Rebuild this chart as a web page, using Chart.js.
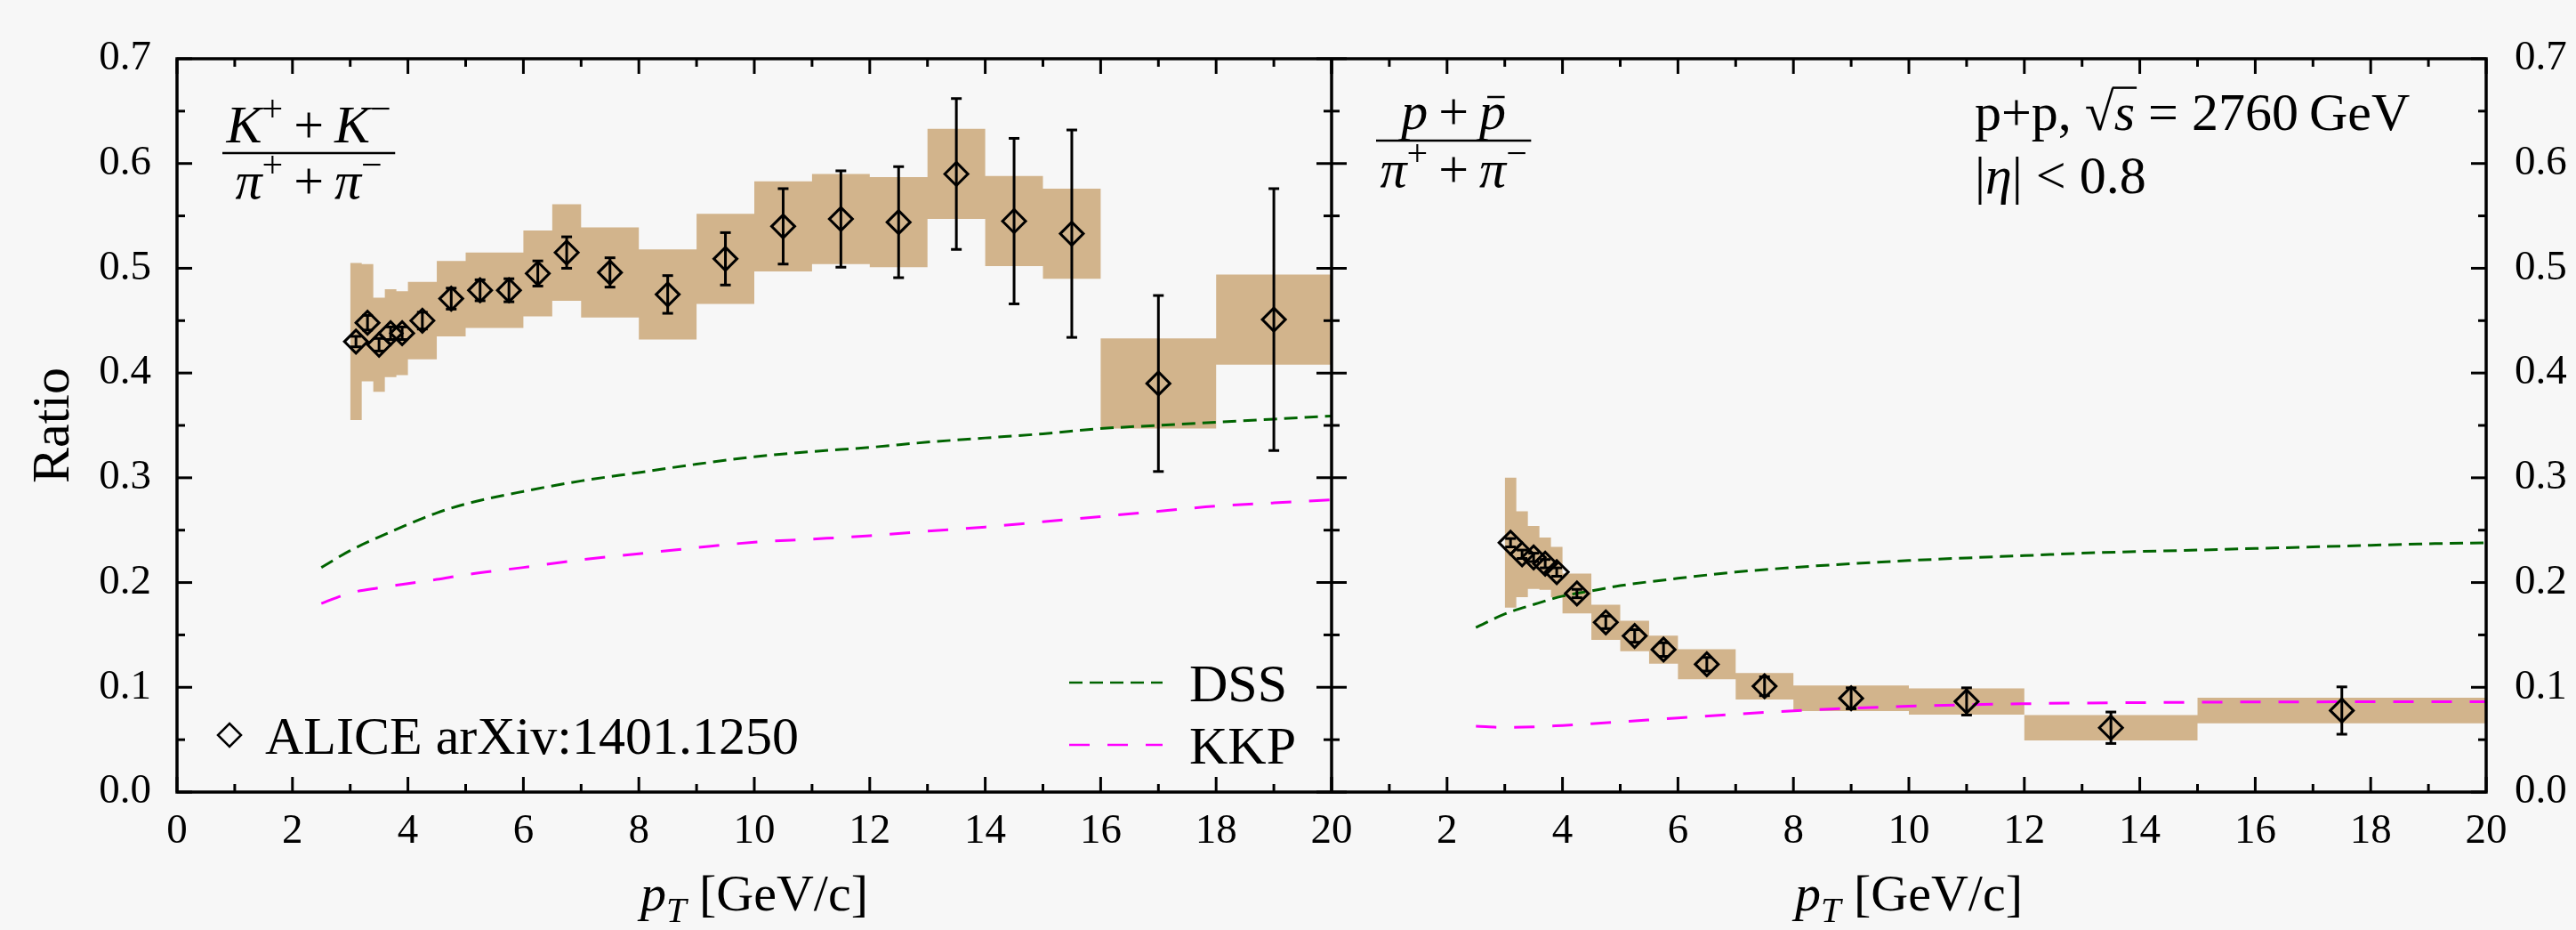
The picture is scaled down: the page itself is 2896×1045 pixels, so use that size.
<!DOCTYPE html>
<html>
<head>
<meta charset="utf-8">
<title>K/pi and p/pi ratios, p+p 2760 GeV</title>
<script src="https://cdn.jsdelivr.net/npm/chart.js@4.4.1/dist/chart.umd.min.js"></script>
<style>
  html, body { margin: 0; padding: 0; background: #f7f7f7; }
  #wrap { position: relative; width: 2896px; height: 1045px; }
</style>
</head>
<body>
<div id="wrap"><canvas id="ratioChart"></canvas></div>
<script>
// ALICE (K+ + K-)/(pi+ + pi-) : bin centres, values, stat and sys errors, bin edges
const kpiPt    = [3.1, 3.3, 3.5, 3.7, 3.9, 4.25, 4.75, 5.25, 5.75, 6.25, 6.75, 7.5, 8.5, 9.5, 10.5, 11.5, 12.5, 13.5, 14.5, 15.5, 17, 19];
const kpiVal   = [0.430, 0.448, 0.427, 0.438, 0.438, 0.450, 0.471, 0.479, 0.479, 0.495, 0.515, 0.496, 0.475, 0.509, 0.540, 0.547, 0.544, 0.590, 0.545, 0.533, 0.390, 0.451];
const kpiStat  = [0.005, 0.007, 0.006, 0.006, 0.006, 0.008, 0.010, 0.010, 0.011, 0.012, 0.015, 0.014, 0.018, 0.025, 0.036, 0.046, 0.053, 0.072, 0.079, 0.099, 0.084, 0.125];
const kpiSys   = [0.075, 0.056, 0.045, 0.042, 0.040, 0.037, 0.036, 0.036, 0.036, 0.041, 0.046, 0.043, 0.043, 0.043, 0.043, 0.043, 0.043, 0.043, 0.043, 0.043, 0.043, 0.043];
const kpiEdges = [3.0, 3.2, 3.4, 3.6, 3.8, 4.0, 4.5, 5.0, 5.5, 6.0, 6.5, 7.0, 8.0, 9.0, 10, 11, 12, 13, 14, 15, 16, 18, 20];

// ALICE (p + pbar)/(pi+ + pi-)
const ppiPt    = [3.1, 3.3, 3.5, 3.7, 3.9, 4.25, 4.75, 5.25, 5.75, 6.5, 7.5, 9.0, 11.0, 13.5, 17.5];
const ppiVal   = [0.238, 0.227, 0.224, 0.218, 0.210, 0.1895, 0.162, 0.149, 0.136, 0.122, 0.101, 0.0895, 0.0865, 0.0614, 0.0778];
const ppiStat  = [0.004, 0.004, 0.004, 0.004, 0.004, 0.004, 0.006, 0.006, 0.0065, 0.0065, 0.009, 0.010, 0.013, 0.015, 0.0226];
const ppiSys   = [0.062, 0.041, 0.030, 0.025, 0.024, 0.019, 0.0168, 0.0145, 0.0134, 0.0144, 0.0127, 0.0123, 0.0125, 0.0121, 0.0122];
const ppiEdges = [3.0, 3.2, 3.4, 3.6, 3.8, 4.0, 4.5, 5.0, 5.5, 6.0, 7.0, 8.0, 10, 12, 15, 20];

// pQCD curves (DSS, KKP fragmentation functions)
const curvePt = [2.5, 3, 3.5, 4, 4.5, 5, 6, 7, 8, 9, 10, 11, 12, 13, 14, 15, 16, 17, 18, 19, 20];
const dssKpi  = [0.2144, 0.2305, 0.2435, 0.2555, 0.2665, 0.275, 0.287, 0.297, 0.305, 0.313, 0.320, 0.325, 0.329, 0.334, 0.338, 0.342, 0.347, 0.350, 0.353, 0.356, 0.359];
const kkpKpi  = [0.180, 0.190, 0.195, 0.199, 0.203, 0.2075, 0.2144, 0.2217, 0.2275, 0.2333, 0.2385, 0.2415, 0.2447, 0.249, 0.253, 0.258, 0.263, 0.268, 0.273, 0.276, 0.279];
const dssPpi  = [0.157, 0.170, 0.179, 0.187, 0.192, 0.197, 0.204, 0.210, 0.2144, 0.218, 0.221, 0.2235, 0.2257, 0.228, 0.2297, 0.231, 0.2325, 0.234, 0.2356, 0.237, 0.238];
const kkpPpi  = [0.0628, 0.0617, 0.0622, 0.0636, 0.0652, 0.067, 0.0707, 0.0744, 0.0775, 0.080, 0.082, 0.0833, 0.0843, 0.085, 0.0854, 0.0857, 0.086, 0.0861, 0.0862, 0.0863, 0.0863];

const yTicks = { min: 0, max: 0.7, step: 0.1 };
const xTicks = { min: 0, max: 20, step: 2 };

const SERIF = '"Liberation Serif", "DejaVu Serif", serif';
const TAN = 'rgb(210,180,140)';
const GREEN = 'rgb(0,100,0)';
const MAGENTA = 'rgb(255,0,255)';

Chart.defaults.color = '#000';
Chart.defaults.font.family = SERIF;

function sysEdge(val, sys, edges, sign) {
  return edges.map((e, i) => {
    const k = Math.min(i, val.length - 1);
    return { x: e, y: val[k] + sign * sys[k] };
  });
}
function errRows(pt, val, err) {
  return pt.flatMap((x, i) => [{ x, y: val[i] - err[i] }, { x, y: val[i] + err[i] }, { x, y: null }]);
}
function rows(pt, val) {
  return pt.map((x, i) => ({ x, y: val[i] }));
}

const hidden = { borderColor: 'rgba(0,0,0,0)', borderWidth: 0, pointRadius: 0, stepped: 'before', order: 3 };

function sysPair(xId, val, sys, edges) {
  return [
    { ...hidden, xAxisID: xId, data: sysEdge(val, sys, edges, 1), fill: false },
    { ...hidden, xAxisID: xId, data: sysEdge(val, sys, edges, -1), fill: '-1', backgroundColor: TAN }
  ];
}
function curve(xId, vals, color, dash) {
  return { xAxisID: xId, data: rows(curvePt, vals), borderColor: color, borderWidth: 3, borderDash: dash,
           pointRadius: 0, cubicInterpolationMode: 'monotone', fill: false, order: 2 };
}
function errBars(xId, pt, val, err) {
  return { xAxisID: xId, data: errRows(pt, val, err), borderColor: '#000', borderWidth: 3, spanGaps: false,
           pointStyle: 'line', pointRadius: 6, pointBorderWidth: 3, pointBorderColor: '#000', fill: false, order: 1 };
}
function diamonds(xId, pt, val) {
  return { xAxisID: xId, data: rows(pt, val), showLine: false, pointStyle: 'rectRot', pointRadius: 13,
           pointBorderWidth: 3, pointBorderColor: '#000', pointBackgroundColor: 'rgba(0,0,0,0)', order: 0 };
}

// --- rich text helper for the little formulas ---
// flags: i italic, ^ superscript, _ subscript, b binary-op spacing, o overline, m macron
function rich(ctx, parts, x, y, size, draw) {
  let cx = x;
  for (const [t, f] of parts) {
    const small = f.includes('^') || f.includes('_');
    const fs = small ? size * 0.7 : size;
    ctx.font = (f.includes('i') ? 'italic ' : '') + fs + 'px ' + SERIF;
    const pad = f.includes('b') ? size * 0.2 : 0;
    const dy = f.includes('^') ? -size * 0.4 : (f.includes('_') ? size * 0.22 : 0);
    const w = ctx.measureText(t).width;
    cx += pad;
    if (draw) {
      ctx.fillText(t, cx, y + dy);
      if (f.includes('o')) {
        ctx.lineWidth = 2.5;
        ctx.beginPath(); ctx.moveTo(cx - 2, y - size * 0.79); ctx.lineTo(cx + w + 2, y - size * 0.79); ctx.stroke();
      }
      if (f.includes('m')) {
        ctx.lineWidth = 2.5;
        ctx.beginPath(); ctx.moveTo(cx + w * 0.3, y - size * 0.6); ctx.lineTo(cx + w * 0.95, y - size * 0.6); ctx.stroke();
      }
    }
    cx += w + pad;
  }
  return cx - x;
}
function fraction(ctx, num, den, left, barY, numBase, denBase, size) {
  const wN = rich(ctx, num, 0, 0, size, false);
  const wD = rich(ctx, den, 0, 0, size, false);
  const W = Math.max(wN, wD) + size * 0.15;
  rich(ctx, num, left + (W - wN) / 2, numBase, size, true);
  rich(ctx, den, left + (W - wD) / 2, denBase, size, true);
  ctx.lineWidth = 2.5;
  ctx.beginPath(); ctx.moveTo(left, barY); ctx.lineTo(left + W, barY); ctx.stroke();
}

const decorations = {
  id: 'decorations',
  afterDraw(chart) {
    const { ctx, chartArea: a, scales } = chart;
    const mid = scales.xL.right;
    ctx.save();
    ctx.strokeStyle = '#000';
    ctx.fillStyle = '#000';
    const seg = (x1, y1, x2, y2) => { ctx.beginPath(); ctx.moveTo(x1, y1); ctx.lineTo(x2, y2); ctx.stroke(); };
    const split = s => {
      const major = s.ticks.map(t => t.value);
      const h = (major[1] - major[0]) / 2;
      return [major, major.slice(0, -1).map(v => v + h)];
    };

    // inward ticks on every side
    ctx.lineWidth = 3;
    for (const s of [scales.xL, scales.xR]) {
      const [major, minor] = split(s);
      for (const [vals, len] of [[major, 17], [minor, 9]]) {
        for (const v of vals) {
          const px = s.getPixelForValue(v);
          seg(px, a.bottom, px, a.bottom - len);
          seg(px, a.top, px, a.top + len);
        }
      }
    }
    const [yMaj, yMin] = split(scales.y);
    for (const [vals, len] of [[yMaj, 17], [yMin, 9]]) {
      for (const v of vals) {
        const py = scales.y.getPixelForValue(v);
        seg(a.left, py, a.left + len, py);
        seg(mid - len, py, mid + len, py);
        seg(a.right - len, py, a.right, py);
      }
    }
    ctx.lineWidth = 3.5;
    ctx.strokeRect(a.left, a.top, a.right - a.left, a.bottom - a.top);
    seg(mid, a.top, mid, a.bottom);

    ctx.textBaseline = 'alphabetic';
    ctx.textAlign = 'left';

    // x axis titles
    const ptTitle = [['p', 'i'], ['T', 'i_'], [' [GeV/c]', '']];
    for (const s of [scales.xL, scales.xR]) {
      const w = rich(ctx, ptTitle, 0, 0, 58, false);
      rich(ctx, ptTitle, (s.left + s.right) / 2 - w / 2, 1023, 58, true);
    }

    // panel labels
    fraction(ctx,
      [['K', 'i'], ['+', '^'], ['+', 'b'], ['K', 'i'], ['\u2212', '^']],
      [['\u03c0', 'i'], ['+', '^'], ['+', 'b'], ['\u03c0', 'i'], ['\u2212', '^']],
      250, 172, 160, 223, 60);
    fraction(ctx,
      [['p', 'i'], ['+', 'b'], ['p', 'im']],
      [['\u03c0', 'i'], ['+', '^'], ['+', 'b'], ['\u03c0', 'i'], ['\u2212', '^']],
      1547, 158, 145, 210, 60);

    rich(ctx, [['p+p, ', ''], ['\u221a', ''], ['s', 'io'], [' = 2760\u2009GeV', '']], 2220, 146, 60, true);
    rich(ctx, [['|', ''], ['\u03b7', 'i'], ['| < 0.8', '']], 2220, 217, 60, true);

    // legend: data marker
    ctx.lineWidth = 2.5;
    ctx.beginPath();
    ctx.moveTo(258, 826 - 13); ctx.lineTo(258 + 13, 826); ctx.lineTo(258, 826 + 13); ctx.lineTo(258 - 13, 826);
    ctx.closePath(); ctx.stroke();
    ctx.font = '60px ' + SERIF;
    ctx.fillText('ALICE arXiv:1401.1250', 298, 847);

    // legend: curves
    ctx.lineWidth = 2.5;
    ctx.strokeStyle = GREEN; ctx.setLineDash([15, 8]);
    seg(1202, 767, 1307, 767);
    ctx.strokeStyle = MAGENTA; ctx.setLineDash([23, 20]);
    seg(1202, 837, 1307, 837);
    ctx.setLineDash([]);
    ctx.fillText('DSS', 1337, 788);
    ctx.fillText('KKP', 1337, 858);
    ctx.restore();
  }
};

const tickFont = { family: SERIF, size: 47 };
const fmtY = v => v.toFixed(1);

function xScale(hideZero) {
  return {
    type: 'linear', position: 'bottom', stack: 'pt', stackWeight: 1,
    min: xTicks.min, max: xTicks.max,
    grid: { display: false, drawTicks: false }, border: { display: false },
    ticks: { stepSize: xTicks.step, autoSkip: false, maxRotation: 0, padding: 16, font: tickFont, color: '#000',
             callback: v => (hideZero && v === 0) ? '' : v },
    afterFit: s => { s.height = 155; }
  };
}
function yScale(pos, pad, width, withTitle) {
  return {
    type: 'linear', position: pos, min: yTicks.min, max: yTicks.max,
    grid: { display: false, drawTicks: false }, border: { display: false },
    ticks: { stepSize: yTicks.step, padding: pad, font: tickFont, color: '#000', callback: fmtY },
    title: { display: withTitle, text: 'Ratio', color: '#000', font: { family: SERIF, size: 60 }, padding: { top: 25, bottom: 0 } },
    afterFit: s => { s.width = width; }
  };
}

new Chart(document.getElementById('ratioChart'), {
  type: 'line',
  data: {
    datasets: [
      ...sysPair('xL', kpiVal, kpiSys, kpiEdges),
      ...sysPair('xR', ppiVal, ppiSys, ppiEdges),
      curve('xL', dssKpi, GREEN, [15, 8]),
      curve('xL', kkpKpi, MAGENTA, [23, 20]),
      curve('xR', dssPpi, GREEN, [15, 8]),
      curve('xR', kkpPpi, MAGENTA, [23, 20]),
      errBars('xL', kpiPt, kpiVal, kpiStat),
      errBars('xR', ppiPt, ppiVal, ppiStat),
      diamonds('xL', kpiPt, kpiVal),
      diamonds('xR', ppiPt, ppiVal)
    ].map(d => ({ yAxisID: 'y', ...d }))
  },
  options: {
    responsive: true,
    maintainAspectRatio: false,
    animation: false,
    events: [],
    layout: { padding: { top: 66, left: 0, right: 0, bottom: 0 } },
    plugins: { legend: { display: false }, tooltip: { enabled: false } },
    scales: {
      xL: xScale(false),
      xR: xScale(true),
      y: yScale('left', 29, 199, true),
      yR: yScale('right', 32, 101, false)
    }
  },
  plugins: [decorations]
});
</script>
</body>
</html>
